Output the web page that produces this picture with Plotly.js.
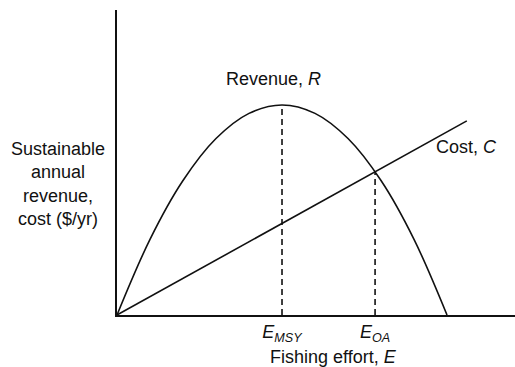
<!DOCTYPE html>
<html>
<head>
<meta charset="utf-8">
<script src="https://cdn.plot.ly/plotly-3.0.1.min.js"></script>
<style>
  html, body { margin: 0; padding: 0; background: #fff; }
  #chart { width: 515px; height: 367px; }
</style>
</head>
<body>
<div id="chart"></div>
<script>
// fishing effort (relative units) and the revenue
var effort = [0, 10, 20, 30, 40, 50, 60, 70, 80, 90, 100];
var revenue = [0, 36, 64, 84, 96, 100, 96, 84, 64, 36, 0];

// cost is a straight line from the origin
var costEffort = [0, 106];
var cost = [0, 92.4];

// the two marked effort levels
var eMSY = 50, rMSY = 100;
var eOA = 78.2, cOA = 68.2;

var tickVals = [eMSY, eOA];
var tickText = ['<i>E</i><sub><i>MSY</i></sub>', '<i>E</i><sub><i>OA</i></sub>'];

var black = '#111';

var data = [
    {
        x: effort,
        y: revenue,
        mode: 'lines',
        line: {color: black, width: 1.6, shape: 'spline', smoothing: 1.0},
        hoverinfo: 'skip'
    },
    {
        x: costEffort,
        y: cost,
        mode: 'lines',
        line: {color: black, width: 1.6},
        hoverinfo: 'skip'
    },
    {
        x: [eMSY, eMSY],
        y: [0, rMSY],
        mode: 'lines',
        line: {color: black, width: 1.6, dash: '6px,4px'},
        hoverinfo: 'skip'
    },
    {
        x: [eOA, eOA],
        y: [0, cOA],
        mode: 'lines',
        line: {color: black, width: 1.6, dash: '6px,4px'},
        hoverinfo: 'skip'
    }
];

var layout = {
    width: 515,
    height: 367,
    showlegend: false,
    paper_bgcolor: '#fff',
    plot_bgcolor: '#fff',
    font: {family: 'Liberation Sans, Arial, sans-serif', size: 18, color: black},
    margin: {l: 117, r: 0, t: 10, b: 52},
    xaxis: {
        range: [0, 120.6],
        showgrid: false,
        zeroline: false,
        showline: true,
        linecolor: black,
        linewidth: 1.6,
        ticks: '',
        tickvals: tickVals,
        ticktext: tickText,
        tickfont: {size: 18},
        fixedrange: true
    },
    yaxis: {
        range: [0, 145.2],
        showgrid: false,
        zeroline: false,
        showline: true,
        linecolor: black,
        linewidth: 1.6,
        ticks: '',
        showticklabels: false,
        fixedrange: true
    },
    annotations: [
        {
            text: 'Revenue, <i>R</i>',
            xref: 'x', yref: 'y',
            x: eMSY, y: rMSY,
            xshift: -9, yshift: 26,
            showarrow: false,
            font: {size: 18}
        },
        {
            text: 'Cost, <i>C</i>',
            xref: 'paper', yref: 'paper',
            x: 0.877, y: 0.552,
            xanchor: 'center', yanchor: 'middle',
            showarrow: false,
            font: {size: 18}
        },
        {
            text: 'Sustainable<br>annual<br>revenue,<br>cost ($/yr)',
            xref: 'paper', yref: 'paper',
            x: -0.147, y: 0.43,
            xanchor: 'center', yanchor: 'middle',
            showarrow: false,
            font: {size: 18}
        },
        {
            text: 'Fishing effort, <i>E</i>',
            xref: 'paper', yref: 'paper',
            x: 0.545, y: -0.138,
            xanchor: 'center', yanchor: 'middle',
            showarrow: false,
            font: {size: 18}
        }
    ]
};

Plotly.newPlot('chart', data, layout, {displayModeBar: false, staticPlot: true});
</script>
</body>
</html>
